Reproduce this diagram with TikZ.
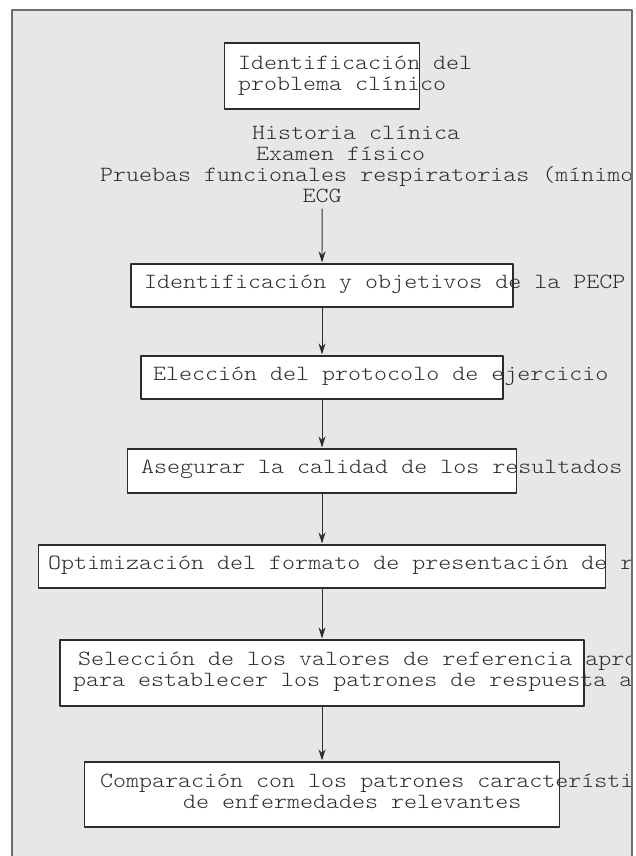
\documentclass[tikz,border=0pt]{standalone}
\usepackage{fontspec}
\newfontfamily\flujofont{lmmonolt10-regular.otf}[FakeStretch=1.143]
\usetikzlibrary{arrows.meta}
\definecolor{panelgray}{HTML}{E6E7E9}
\definecolor{inkgray}{HTML}{2C2C2C}
\definecolor{framegray}{HTML}{6E6E6E}
\begin{document}
\begin{tikzpicture}[x=1pt,y=-1pt,>={Stealth[length=11pt,width=7pt]},line join=round,
	caja/.style={draw=inkgray,line width=1.2pt,fill=white,inner sep=0pt},
	texto/.style={anchor=mid west,inner sep=0pt,text=inkgray,font=\flujofont\fontsize{21.67}{20.5}\selectfont},
	flecha/.style={->,draw=inkgray,line width=0.9pt,shorten >=1pt}]
	\useasboundingbox (0,0) rectangle (636,856);
	\fill[panelgray] (12,10) rectangle (632,856);
	\node[caja,minimum width=195pt,minimum height=66pt] (b1) at (322,76) {};
	\node[caja,minimum width=382pt,minimum height=43pt] (b2) at (322,285.5) {};
	\node[caja,minimum width=362pt,minimum height=43pt] (b3) at (322,377.5) {};
	\node[caja,minimum width=389pt,minimum height=44pt] (b4) at (322,471) {};
	\node[caja,minimum width=567pt,minimum height=43pt] (b5) at (322,566.5) {};
	\node[caja,minimum width=524pt,minimum height=66pt] (b6) at (322,673) {};
	\node[caja,minimum width=475pt,minimum height=65pt] (b7) at (322,794.5) {};
	\begin{scope}
	\clip (12,10) rectangle (631,856);
	\node[texto] (t1a) at (238,67) {Identificación del};
	\node[texto] (t1b) at (238,88) {problema clínico};
	\node[texto] (historia) at (252,137) {Historia clínica};
	\node[texto] (examen) at (256,158) {Examen físico};
	\node[texto] (pruebas) at (100,179) {Pruebas funcionales respiratorias (mínimo};
	\node[texto] (ecg) at (302.5,200) {ECG};
	\node[texto] (t2) at (144,286) {Identificación y objetivos de la PECP};
	\node[texto] (t3) at (153,378) {Elección del protocolo de ejercicio};
	\node[texto] (t4) at (141,471) {Asegurar la calidad de los resultados};
	\node[texto] (t5) at (48,567) {Optimización del formato de presentación de r};
	\node[texto] (t6a) at (78,663) {Selección de los valores de referencia apro};
	\node[texto] (t6b) at (73,684) {para establecer los patrones de respuesta a};
	\node[texto] (t7a) at (100,785) {Comparación con los patrones característi};
	\node[texto] (t7b) at (183,806) {de enfermedades relevantes};
	\end{scope}
	\draw[flecha,shorten <=6pt] (ecg.south) -- (b2.north);
	\foreach \a/\b in {b2/b3,b3/b4,b4/b5,b5/b6,b6/b7}
	\draw[flecha] (\a.south) -- (\b.north);
	\draw[framegray,line width=1.3pt] (12,856) -- (12,10) -- (632,10) -- (632,856);
\end{tikzpicture}
\end{document}
